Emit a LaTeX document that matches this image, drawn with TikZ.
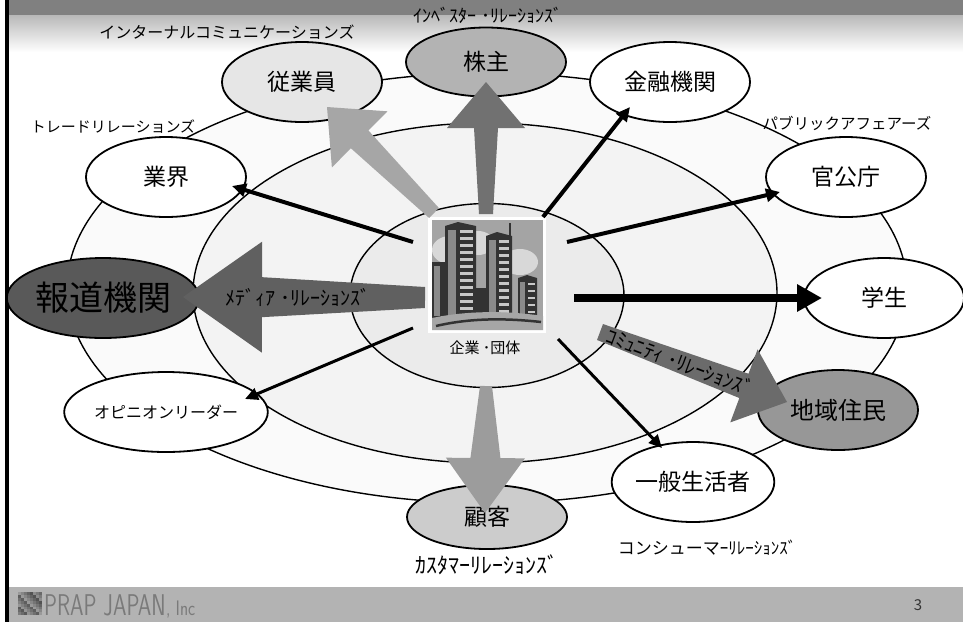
\documentclass[tikz,border=0pt]{standalone}
\usepackage{graphicx}
\usepackage{fontspec}
\setmainfont{Noto Sans CJK JP}
\newfontfamily\logofont{Latin Modern Sans}
\usetikzlibrary{shapes.geometric,arrows.meta,calc}
\definecolor{barDark}{HTML}{808080}
\definecolor{barFade}{HTML}{B8B8B8}
\definecolor{footGray}{HTML}{B3B3B3}
\definecolor{ringOuter}{HTML}{FAFAFA}
\definecolor{ringMid}{HTML}{F3F3F3}
\definecolor{ringInner}{HTML}{EBEBEB}
\definecolor{fillStaff}{HTML}{E6E6E6}
\definecolor{fillHolder}{HTML}{B3B3B3}
\definecolor{fillPress}{HTML}{595959}
\definecolor{fillLocal}{HTML}{979797}
\definecolor{fillClient}{HTML}{CCCCCC}
\definecolor{arrStaff}{HTML}{A6A6A6}
\definecolor{arrHolder}{HTML}{717171}
\definecolor{arrPress}{HTML}{606060}
\definecolor{arrLocal}{HTML}{6B6B6B}
\definecolor{arrClient}{HTML}{9C9C9C}
\definecolor{skyGray}{HTML}{A4A4A4}
\definecolor{cloudGray}{HTML}{D8D8D8}
\definecolor{towerDark}{HTML}{333333}
\definecolor{towerMid}{HTML}{8A8A8A}
\definecolor{towerLight}{HTML}{C8C8C8}
\definecolor{logoGray}{HTML}{7A7A7A}
% tapered block arrow: colour, tail, tip, tail width, neck width, head width, head length
\newcommand{\fatarrow}[7]{%
  \coordinate (fa-n) at ($(#3)!#7!(#2)$);
  \fill[#1] ($(#2)!#4/2!90:(#3)$) -- ($(fa-n)!#5/2!-90:(#2)$)
    -- ($(fa-n)!#6/2!-90:(#2)$) -- (#3) -- ($(fa-n)!#6/2!90:(#2)$)
    -- ($(fa-n)!#5/2!90:(#2)$) -- ($(#2)!#4/2!-90:(#3)$) -- cycle;}
\newcommand{\fsz}[1]{\fontsize{#1}{#1}\selectfont}
\begin{document}
\begin{tikzpicture}[x=1pt,y=-1pt,
  sat/.style={ellipse,draw=black,line width=1.8pt,minimum width=160pt,
    minimum height=80pt,inner sep=0pt,font=\fsz{23}},
  ring/.style={draw=black,line width=1.4pt},
  lbl/.style={inner sep=0pt,font=\fsz{15.5}},
  hlbl/.style={inner sep=0pt,font=\fsz{18}},
  ray/.style={line width=4pt,-{Triangle[length=14pt,width=13pt]}},
  thinray/.style={line width=3pt,-{Triangle[length=13pt,width=12pt]}}]
\useasboundingbox (0,0) rectangle (963,622);
\fill[white] (0,0) rectangle (963,622);

% header band
\fill[barDark] (9,0) rectangle (963,15);
\shade[top color=barFade,bottom color=white] (9,15) rectangle (963,52);

% footer band
\fill[footGray] (9,587) rectangle (963,622);
\fill[black] (5,0) rectangle (9,622);

% concentric rings
\fill[ringOuter,ring] (487,288) ellipse [x radius=420pt,y radius=215pt];
\fill[ringMid,ring] (485,293) ellipse [x radius=292pt,y radius=170pt];
\fill[ringInner,ring] (487,295.5) ellipse [x radius=137pt,y radius=92pt];

% stakeholders
\node[sat,fill=fillStaff] (staff) at (302,82) {従業員};
\node[sat,fill=fillHolder,minimum height=69pt] (holder) at (486,62) {株主};
\node[sat,fill=white] (bank) at (670,82) {金融機関};
\node[sat,fill=white] (trade) at (166,177) {業界};
\node[sat,fill=white] (gov) at (846,177) {官公庁};
\node[sat,fill=fillPress,font=\fsz{34}] (press) at (103,298) {報道機関};
\node[sat,fill=white] (student) at (884,298) {学生};
\node[sat,fill=white,font=\fsz{16}] (opinion) at (166,412) {オピニオンリーダー};
\node[sat,fill=fillLocal,font=\fsz{24}] (local) at (838,410) {地域住民};
\node[sat,fill=white] (public) at (693,482) {一般生活者};
\node[sat,fill=fillClient,minimum height=64pt] (client) at (487,517) {顧客};

% company picture
\node[inner sep=0pt,minimum width=118pt,minimum height=116pt,fill=white] (corp) at (487,275) {};
\begin{scope}
  \fill[skyGray] (432,220) rectangle (543,330);
  \fill[cloudGray] (450,250) ellipse [x radius=18pt,y radius=14pt];
  \fill[cloudGray] (478,243) ellipse [x radius=16pt,y radius=12pt];
  \fill[cloudGray] (520,262) ellipse [x radius=18pt,y radius=13pt];
  \fill[cloudGray] (500,258) ellipse [x radius=14pt,y radius=10pt];
  % towers
  \fill[towerDark] (432,262) rectangle (447,318);
  \fill[towerMid] (434,266) rectangle (440,316);
  \fill[towerDark] (445,226) -- (458,222) -- (476,226) -- (476,318) -- (445,318) -- cycle;
  \fill[towerMid] (448,230) rectangle (456,316);
  \fill[towerDark] (476,288) rectangle (487,318);
  \fill[towerDark] (486,236) -- (497,232) -- (512,236) -- (512,318) -- (486,318) -- cycle;
  \fill[towerMid] (489,240) rectangle (496,316);
  \fill[towerDark] (508.5,223) rectangle (511,236);
  \fill[towerDark] (518,278) -- (527,275) -- (537,278) -- (537,318) -- (518,318) -- cycle;
  \fill[towerMid] (520,282) rectangle (525,316);
  \foreach \yy in {230,237,...,312} \fill[towerLight] (460,\yy) rectangle (473,\yy+2.5);
  \foreach \yy in {240,247,...,312} \fill[towerLight] (499,\yy) rectangle (509,\yy+2.5);
  \foreach \yy in {283,290,...,312} \fill[towerLight] (528,\yy) rectangle (535,\yy+2);
  % street
  \fill[gray!70] (432,318) .. controls (470,310) and (510,311) .. (543,316) -- (543,330) -- (432,330) -- cycle;
  \draw[towerDark,line width=2.5pt] (436,326) .. controls (470,318) and (505,318) .. (541,322);
\end{scope}
\node[inner sep=0pt,font=\fsz{15}] (corpname) at (485,348) {企業 ･団体};

% anchor points for the connectors
\coordinate (sTrade) at (413,242);   \coordinate (eTrade) at (232,186);
\coordinate (sBank) at (543,217);    \coordinate (eBank) at (630,107);
\coordinate (sGov) at (567,242);     \coordinate (eGov) at (780,192);
\coordinate (sStud) at (574,298);    \coordinate (eStud) at (822,298);
\coordinate (sPub) at (558,339);     \coordinate (ePub) at (662,448);
\coordinate (sOpin) at (413,328);    \coordinate (eOpin) at (245,399);
\coordinate (sStaff) at (434,213);   \coordinate (eStaff) at (327,107);
\coordinate (sHold) at (486,214);    \coordinate (eHold) at (486,82);
\coordinate (sPress) at (425,297.5); \coordinate (ePress) at (183,297);
\coordinate (sLocal) at (600,332);   \coordinate (eLocal) at (787,402);
\coordinate (sClient) at (486,386);  \coordinate (eClient) at (485,513);

% plain connectors
\draw[ray] (sTrade) -- (eTrade);
\draw[ray] (sBank) -- (eBank);
\draw[ray] (sGov) -- (eGov);
\draw[line width=8pt,-{Triangle[length=25pt,width=26pt]}] (sStud) -- (eStud);
\draw[thinray] (sPub) -- (ePub);
\draw[thinray] (sOpin) -- (eOpin);

% block arrows
\fatarrow{arrStaff}{sStaff}{eStaff}{14pt}{25pt}{79pt}{46pt}
\fatarrow{arrHolder}{sHold}{eHold}{14pt}{24pt}{78pt}{46pt}
\fatarrow{arrPress}{sPress}{ePress}{21pt}{40pt}{111pt}{79pt}
\fatarrow{arrLocal}{sLocal}{eLocal}{17pt}{26pt}{78pt}{46pt}
\fatarrow{arrClient}{sClient}{eClient}{12pt}{30pt}{79pt}{55pt}

% relation labels
\node[lbl,font=\fsz{16}] (lInternal) at (227,32) {インターナルコミュニケーションズ};
\node[hlbl] (lInvestor) at (488,15) {ｲﾝﾍﾞｽﾀｰ ･ﾘﾚｰｼｮﾝｽﾞ};
\node[lbl,font=\fsz{15}] (lTrade) at (113,127) {トレードリレーションズ};
\node[lbl] (lPublic) at (847,123) {パブリックアフェアーズ};
\node[hlbl,font=\fsz{20}] (lMedia) at (298,297) {ﾒﾃﾞｨｱ ･ﾘﾚｰｼｮﾝｽﾞ};
\node[hlbl,font=\fsz{20},rotate=-20.5] (lCommunity) at (680,362) {ｺﾐｭﾆﾃｨ ･ﾘﾚｰｼｮﾝｽﾞ};
\node[hlbl,font=\fsz{22}] (lCustomer) at (487,565) {ｶｽﾀﾏｰﾘﾚｰｼｮﾝｽﾞ};
\node[hlbl,font=\fsz{17}] (lConsumer) at (707,548) {コンシューマｰﾘﾚｰｼｮﾝｽﾞ};

% footer
\foreach \i in {0,...,7}{\foreach \j in {0,...,7}{
  \pgfmathsetmacro{\lev}{40+mod(\i*37+\j*53,30)}
  \fill[black!\lev!white] (18+\i*3,592+\j*2.9) rectangle ++(3,2.9);}}
\node[inner sep=0pt,anchor=base west,text=logoGray] (logo) at (44,615)
  {\logofont\fsz{30}\scalebox{0.72}[1]{PRAP JAPAN}};
\node[inner sep=0pt,anchor=base west,text=logoGray] (inc) at (logo.base east)
  {\logofont\fsz{21}\scalebox{0.8}[1]{, Inc}};
\node[inner sep=0pt,text=black!80] (page) at (918,605) {\fsz{15}3};
\end{tikzpicture}
\end{document}
